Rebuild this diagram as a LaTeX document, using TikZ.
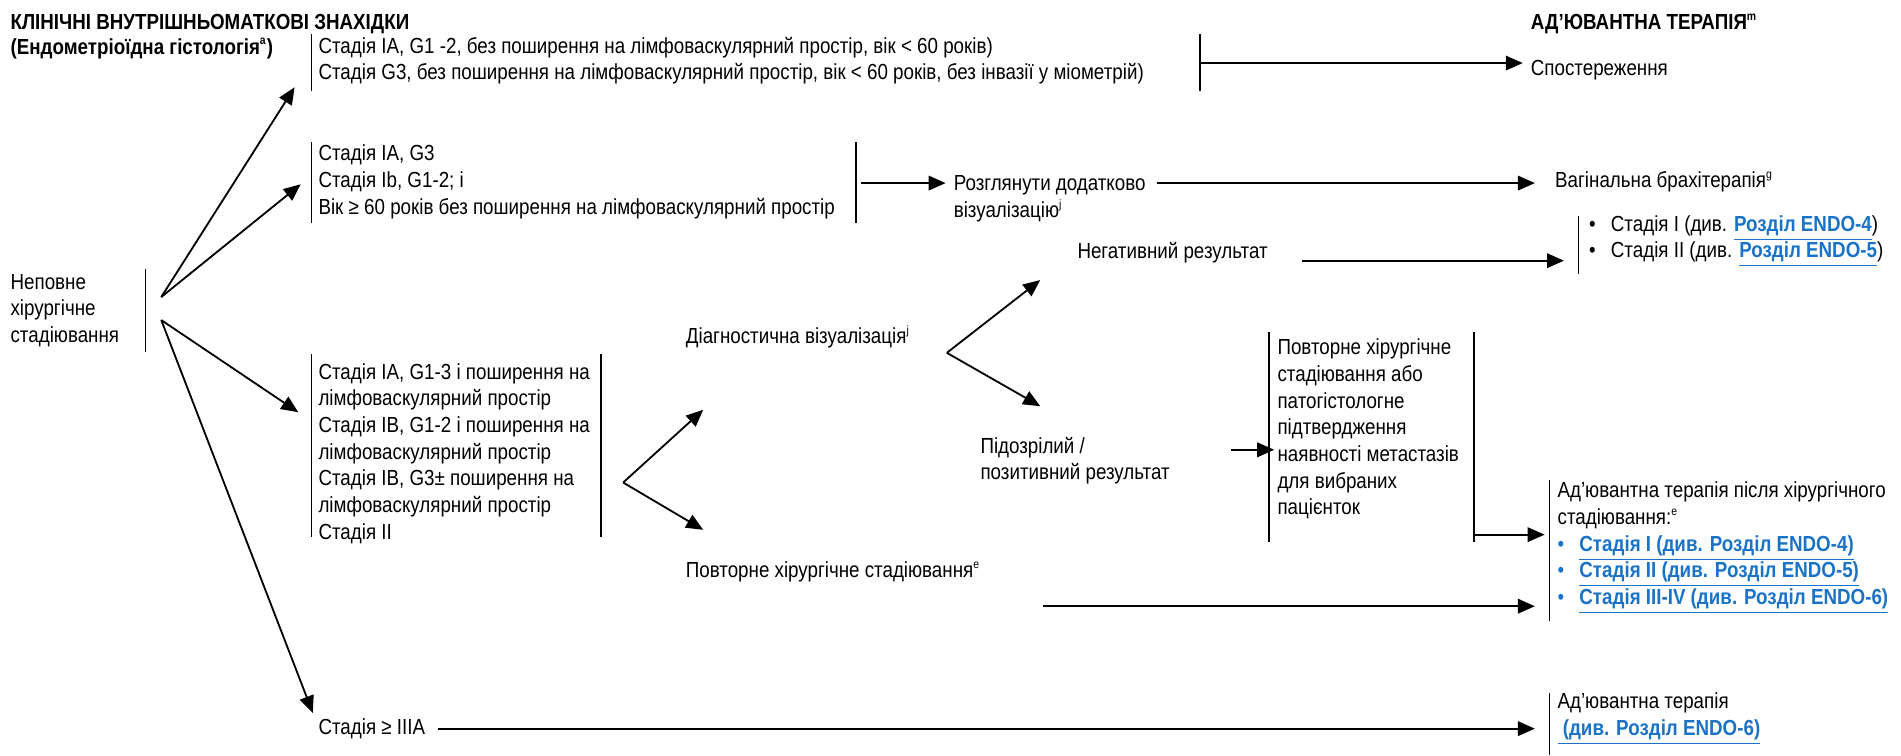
\documentclass[tikz,border=0pt]{standalone}
\usepackage{fontspec}
\setmainfont{Liberation Sans}[FakeStretch=0.86]
\usetikzlibrary{arrows.meta,positioning}
\definecolor{linkblue}{HTML}{1A73C6}
\newcommand{\lnk}[1]{\textcolor{linkblue}{\bfseries\underline{#1}}}
\newcommand{\bul}{\makebox[9pt][l]{•}}
\newcommand{\fnm}[1]{\textsuperscript{\fontsize{5}{5}\selectfont #1}}

\begin{document}
\begin{tikzpicture}[x=0.5pt, y=-0.5pt, line width=0.75pt,
   >={Triangle[length=7pt,width=6pt]},
   txt/.style={anchor=west, align=left, inner sep=0pt, font=\fontsize{9}{11}\selectfont},
   hdr/.style={txt, font=\fontsize{9}{11}\selectfont\bfseries}]
   \useasboundingbox (0,0) rectangle (1568,623);

   \node (title) at (8,20) [hdr] {КЛІНІЧНІ ВНУТРІШНЬОМАТКОВІ ЗНАХІДКИ};
   \node (histo) at (8,40) [hdr] {(Ендометріоїдна гістологія\fnm{a})};
   \node (adjhdr) at (1262,20) [hdr] {АД’ЮВАНТНА ТЕРАПІЯ\fnm{m}};

   \node (start) at (8,256) [txt] {Неповне\\хірургічне\\стадіювання};
   \draw (120,222) -- (120,290);
   \coordinate (fkA) at (133,245);
   \coordinate (fkB) at (133,264);

   % low risk
   \node (low) at (262,50) [txt] {Стадія IA, G1 -2, без поширення на лімфоваскулярний простір, вік < 60 років)\\Стадія G3, без поширення на лімфоваскулярний простір, вік < 60 років, без інвазії у міометрій)};
   \draw (257,28) -- (257,75);
   \draw (990,28) -- (990,75);
   \coordinate (t1) at (243,72);
   \coordinate (lowout) at (990,52);
   \node (obs) at (1262,58) [txt] {Спостереження};
   \draw (fkA)[->] -- (t1);
   \draw (lowout)[->] -- ([xshift=-3pt]lowout -| obs.west);

   % intermediate risk
   \node (mid) at (262,150) [txt] {Стадія IA, G3\\Стадія Ib, G1-2; і\\Вік ≥ 60 років без поширення на лімфоваскулярний простір};
   \draw (257,117) -- (257,184);
   \draw (706,117) -- (706,184);
   \coordinate (t2) at (248,152);
   \coordinate (midout) at (710,151);
   \node (consider) at (786,164) [txt] {Розглянути додатково\\візуалізацію\fnm{j}};
   \coordinate (consout) at (954,151);
   \node (brachy) at (1282,150) [txt] {Вагінальна брахітерапія\fnm{g}};
   \draw (fkA)[->] -- (t2);
   \draw (midout)[->] -- ([xshift=-3pt]midout -| consider.west);
   \draw (consout)[->] -- ([xshift=-8pt]consout -| brachy.west);

   \node (neg) at (888,208) [txt] {Негативний результат};
   \node (st12) at (1310,199) [txt] {\bul Стадія I (див. \lnk{Розділ ENDO-4})\\\bul Стадія II (див. \lnk{Розділ ENDO-5})};
   \draw (1302,178) -- (1302,226);
   \coordinate (negout) at (1074,215);
   \draw (negout)[->] -- ([xshift=-10pt]negout -| st12.west);

   % high risk
   \node (high) at (262,374) [txt] {Стадія IA, G1-3 і поширення на\\лімфоваскулярний простір\\Стадія IB, G1-2 і поширення на\\лімфоваскулярний простір\\Стадія IB, G3± поширення на\\лімфоваскулярний простір\\Стадія II};
   \draw (257,292) -- (257,443);
   \draw (496,292) -- (496,443);
   \coordinate (t3) at (246,340);
   \draw (fkB)[->] -- (t3);
   \coordinate (fkC) at (514,398);
   \coordinate (tc1) at (580,338);
   \coordinate (tc2) at (580,437);
   \draw (fkC)[->] -- (tc1);
   \draw (fkC)[->] -- (tc2);

   \node (diag) at (565,278) [txt] {Діагностична візуалізація\fnm{j}};
   \node (restage) at (565,472) [txt] {Повторне хірургічне стадіювання\fnm{e}};
   \coordinate (fkD) at (781,291);
   \coordinate (td1) at (858,231);
   \coordinate (td2) at (858,335);
   \draw (fkD)[->] -- (td1);
   \draw (fkD)[->] -- (td2);

   \node (susp) at (808,380) [txt] {Підозрілий /\\позитивний результат};
   \node (confirm) at (1053,354) [txt] {Повторне хірургічне\\стадіювання або\\патогістологне\\підтвердження\\наявності метастазів\\для вибраних\\пацієнток};
   \draw (1047,274) -- (1047,447);
   \draw (1216,274) -- (1216,447);
   \coordinate (suspout) at (1015,371);
   \draw (suspout)[->] -- ([xshift=-1pt]suspout -| confirm.west);

   \node (adjsurg) at (1284,452) [txt] {Ад’ювантна терапія після хірургічного\\стадіювання:\fnm{e}\\\textcolor{linkblue}{\bul}\lnk{Стадія I (див. Розділ ENDO-4)}\\\textcolor{linkblue}{\bul}\lnk{Стадія II (див. Розділ ENDO-5)}\\\textcolor{linkblue}{\bul}\lnk{Стадія III-IV (див. Розділ ENDO-6)}};
   \draw (1278,396) -- (1278,512);
   \coordinate (confout) at (1216,441);
   \coordinate (restout) at (860,500);
   \draw (confout)[->] -- ([xshift=-5pt]confout -| adjsurg.west);
   \draw (restout)[->] -- ([xshift=-9pt]restout -| adjsurg.west);

   % stage III+
   \node (st3) at (262,601) [txt] {Стадія ≥ IIIA};
   \coordinate (t4) at (258,588);
   \draw (fkB)[->] -- (t4);
   \node (adj6) at (1284,593) [txt] {Ад’ювантна терапія\\\lnk{\ (див. Розділ ENDO-6)}};
   \draw (1278,572) -- (1278,623);
   \draw ([xshift=5pt]st3.east)[->] -- ([xshift=-9pt]st3.east -| adj6.west);
\end{tikzpicture}
\end{document}
